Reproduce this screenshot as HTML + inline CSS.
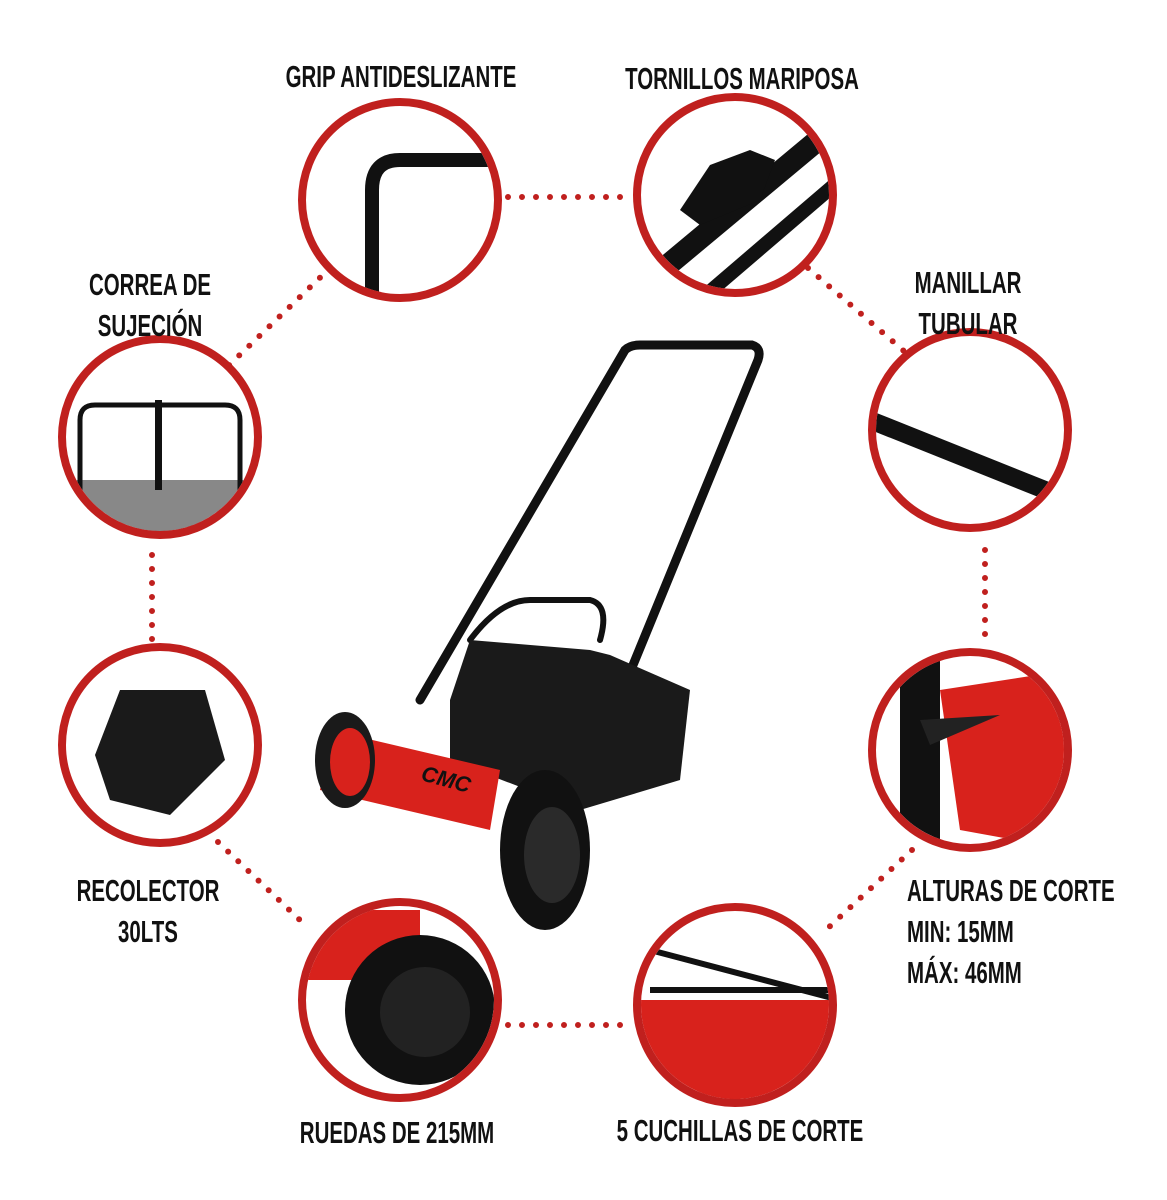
<!DOCTYPE html>
<html><head><meta charset="utf-8"><style>
body{margin:0;background:#fff;}
.wrap{position:relative;width:1167px;height:1200px;overflow:hidden;background:#fff;}
.lbl{position:absolute;font-family:"Liberation Sans Narrow","Liberation Sans",sans-serif;font-weight:bold;font-size:31px;color:#111;line-height:41px;text-align:center;transform:scaleX(0.66);white-space:nowrap;width:400px;}
</style></head><body><div class="wrap">
<svg width="1167" height="1200" style="position:absolute;left:0;top:0">
<defs>
<clipPath id="c1"><circle cx="400" cy="200" r="94"/></clipPath>
<clipPath id="c2"><circle cx="735" cy="195" r="94"/></clipPath>
<clipPath id="c3"><circle cx="160" cy="437" r="94"/></clipPath>
<clipPath id="c4"><circle cx="970" cy="430" r="94"/></clipPath>
<clipPath id="c5"><circle cx="160" cy="745" r="94"/></clipPath>
<clipPath id="c6"><circle cx="970" cy="750" r="94"/></clipPath>
<clipPath id="c7"><circle cx="400" cy="1000" r="94"/></clipPath>
<clipPath id="c8"><circle cx="735" cy="1005" r="94"/></clipPath>
</defs>
<g stroke="#c0201e" stroke-width="6" stroke-linecap="round" stroke-dasharray="0 14" fill="none">
<line x1="508" y1="197" x2="630" y2="197"/>
<line x1="330" y1="268" x2="222" y2="372"/>
<line x1="808" y1="268" x2="912" y2="358"/>
<line x1="152" y1="555" x2="152" y2="640"/>
<line x1="985" y1="550" x2="985" y2="640"/>
<line x1="218" y1="842" x2="302" y2="922"/>
<line x1="912" y1="850" x2="828" y2="928"/>
<line x1="508" y1="1025" x2="630" y2="1025"/>
</g>
<g clip-path="url(#c1)"><path d="M372 300 L372 190 Q372 160 400 160 L500 160" stroke="#111" stroke-width="14" fill="none"/></g>
<g clip-path="url(#c2)"><rect x="620" y="90" width="240" height="220" fill="#fff"/><path d="M650 280 L830 130" stroke="#111" stroke-width="22"/><path d="M700 300 L840 180" stroke="#111" stroke-width="14"/><polygon points="680,210 710,165 750,150 775,160 760,200 700,225" fill="#111"/></g>
<g clip-path="url(#c3)"><rect x="60" y="480" width="200" height="60" fill="#888"/><path d="M80 490 L80 420 Q80 405 95 405 L225 405 Q240 405 240 420 L240 490" stroke="#111" stroke-width="5" fill="none"/><rect x="155" y="400" width="7" height="90" fill="#111"/></g>
<g clip-path="url(#c4)"><path d="M870 420 L1070 500" stroke="#111" stroke-width="18"/></g>
<g clip-path="url(#c5)"><polygon points="95,755 120,690 205,690 225,760 170,815 110,800" fill="#1a1a1a"/></g>
<g clip-path="url(#c6)"><rect x="870" y="650" width="200" height="200" fill="#fff"/><polygon points="940,690 1070,670 1070,850 960,830" fill="#d8221c"/><rect x="900" y="650" width="40" height="200" fill="#111"/><polygon points="920,720 1000,715 930,745" fill="#222"/></g>
<g clip-path="url(#c7)"><rect x="300" y="900" width="200" height="200" fill="#fff"/><rect x="300" y="910" width="120" height="70" fill="#d8221c"/><circle cx="420" cy="1010" r="75" fill="#111"/><circle cx="425" cy="1012" r="45" fill="#222"/></g>
<g clip-path="url(#c8)"><rect x="640" y="1000" width="200" height="110" fill="#d8221c"/><path d="M650 950 L840 1000 M650 990 L840 990" stroke="#111" stroke-width="6"/></g>
<g fill="none" stroke="#c0201e" stroke-width="8">
<circle cx="400" cy="200" r="98"/><circle cx="735" cy="195" r="98"/>
<circle cx="160" cy="437" r="98"/><circle cx="970" cy="430" r="98"/>
<circle cx="160" cy="745" r="98"/><circle cx="970" cy="750" r="98"/>
<circle cx="400" cy="1000" r="98"/><circle cx="735" cy="1005" r="98"/>
</g>
<g stroke="#111" fill="none" stroke-linecap="round">
<path d="M420 700 L625 350 Q630 345 640 345 L752 345 Q762 348 758 360 L590 770" stroke-width="9"/>
<path d="M470 640 Q500 600 530 600 L590 600 Q610 605 600 640" stroke-width="6"/>
</g>
<polygon points="450,700 470,640 590,650 610,655 690,690 680,780 580,810 450,760" fill="#1a1a1a"/>
<polygon points="330,730 500,770 490,830 320,790" fill="#d8221c"/>
<ellipse cx="345" cy="760" rx="30" ry="48" fill="#1a1a1a"/>
<ellipse cx="350" cy="762" rx="20" ry="34" fill="#d8221c"/>
<text x="420" y="780" font-family="Liberation Sans" font-weight="bold" font-style="italic" font-size="22" fill="#111" transform="rotate(15 420 780)">CMC</text>
<ellipse cx="545" cy="850" rx="45" ry="80" fill="#111"/>
<ellipse cx="552" cy="855" rx="28" ry="48" fill="#2a2a2a"/>
</svg>
<div class="lbl" style="left:201px;top:56px;">GRIP ANTIDESLIZANTE</div>
<div class="lbl" style="left:542px;top:58px;">TORNILLOS MARIPOSA</div>
<div class="lbl" style="left:-50px;top:264px;">CORREA DE<br>SUJECIÓN</div>
<div class="lbl" style="left:768px;top:262px;">MANILLAR<br>TUBULAR</div>
<div class="lbl" style="left:-52px;top:870px;">RECOLECTOR<br>30LTS</div>
<div class="lbl" style="left:907px;top:870px;text-align:left;transform-origin:left;">ALTURAS DE CORTE<br>MIN: 15MM<br>MÁX: 46MM</div>
<div class="lbl" style="left:197px;top:1112px;">RUEDAS DE 215MM</div>
<div class="lbl" style="left:540px;top:1110px;">5 CUCHILLAS DE CORTE</div>
</div></body></html>
